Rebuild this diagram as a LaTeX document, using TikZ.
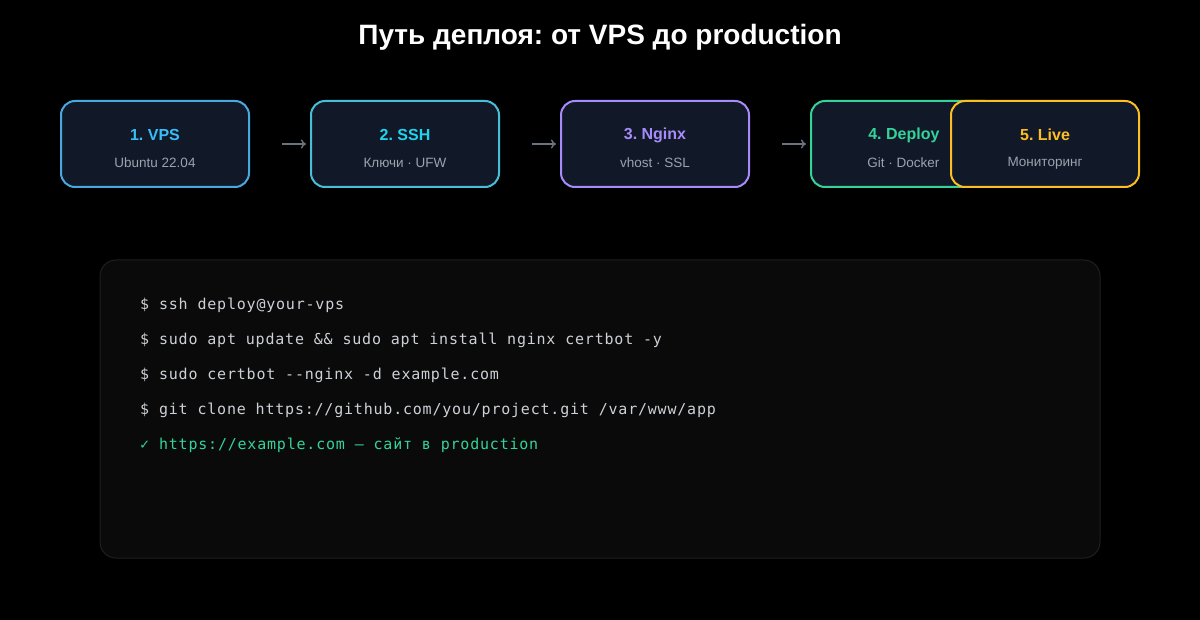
\documentclass[tikz,border=0pt]{standalone}
\usepackage{fontspec}
\setmainfont{Liberation Sans}
\newfontfamily\codefont[LetterSpace=5.3]{DejaVu Sans Mono}
\usetikzlibrary{positioning}
\usetikzlibrary{arrows.meta}
\frenchspacing

\definecolor{boxfill}{HTML}{111827}
\definecolor{subgray}{HTML}{9CA3AF}
\definecolor{arrgray}{HTML}{6B7280}
\definecolor{codefill}{HTML}{0A0A0A}
\definecolor{codeline}{HTML}{1F1F1F}
\definecolor{codetext}{HTML}{CDD1D7}
\definecolor{vpsblue}{HTML}{38BDF8}
\definecolor{vpsedge}{HTML}{4AA8E0}
\definecolor{sshcyan}{HTML}{22D3EE}
\definecolor{sshedge}{HTML}{45C0D8}
\definecolor{nginxpurple}{HTML}{A78BFA}
\definecolor{deploygreen}{HTML}{34D399}
\definecolor{liveyellow}{HTML}{FBBF24}

\begin{document}
\begin{tikzpicture}[x=1pt,y=-1pt,
  stage/.style={draw,line width=2pt,rounded corners=14pt,fill=boxfill,
    minimum width=188pt,minimum height=86pt,inner sep=0pt},
  stagetitle/.style={font=\fontsize{16}{18}\selectfont\bfseries},
  stagesub/.style={font=\fontsize{13.5}{16}\selectfont,text=subgray},
  flow/.style={draw=arrgray,line width=1.4pt,-{To[length=5pt,width=9pt]},
    shorten <=32pt,shorten >=4pt},
  cmd/.style={anchor=west,font=\codefont\fontsize{15}{18}\selectfont,text=codetext,inner sep=0pt}]
\fill[black] (0,0) rectangle (1200,620);
\useasboundingbox (0,0) rectangle (1200,620);

\node[font=\fontsize{28}{32}\selectfont\bfseries,text=white] (title) at (600,37) {Путь деплоя: от VPS до production};

% stages
\node[stage,draw=vpsedge] (vps) at (155,144) {};
\node[stagetitle,text=vpsblue] (vpst) at (155,135) {1. VPS};
\node[stagesub] (vpss) at (155,163) {Ubuntu 22.04};

\node[stage,draw=sshedge] (ssh) at (405,144) {};
\node[stagetitle,text=sshcyan] (ssht) at (405,135) {2. SSH};
\node[stagesub] (sshs) at (405,163) {Ключи · UFW};

\node[stage,draw=nginxpurple] (nginx) at (655,144) {};
\node[stagetitle,text=nginxpurple] (nginxt) at (655,135) {3. Nginx};
\node[stagesub] (nginxs) at (655,163) {vhost · SSL};

\node[stage,draw=deploygreen] (deploy) at (905,144) {};
\node[stagetitle,text=deploygreen,anchor=east] (deployt) at (943,135) {4. Deploy};
\node[stagesub,anchor=east] (deploys) at (943,163) {Git · Docker};

\node[stage,draw=liveyellow] (live) at (1045,144) {};
\node[stagetitle,text=liveyellow] (livet) at (1045,135) {5. Live};
\node[stagesub] (lives) at (1045,163) {Мониторинг};

\draw[flow] (vps.east) -- (ssh.west);
\draw[flow] (ssh.east) -- (nginx.west);
\draw[flow] (nginx.east) -- (deploy.west);

% terminal
\draw[fill=codefill,draw=codeline,line width=1pt,rounded corners=16pt] (100,260) rectangle (1100,558);
\node[cmd] (c1) at (140,305) {\$ ssh deploy@your-vps};
\node[cmd] (c2) at (140,340) {\$ sudo apt update \&\& sudo apt install nginx certbot -y};
\node[cmd] (c3) at (140,375) {\$ sudo certbot -{}-nginx -d example.com};
\node[cmd] (c4) at (140,410) {\$ git clone https://github.com/you/project.git /var/www/app};
\node[cmd,text=deploygreen] (c5) at (140,445) {✓ https://example.com — сайт в production};

\end{tikzpicture}
\end{document}
